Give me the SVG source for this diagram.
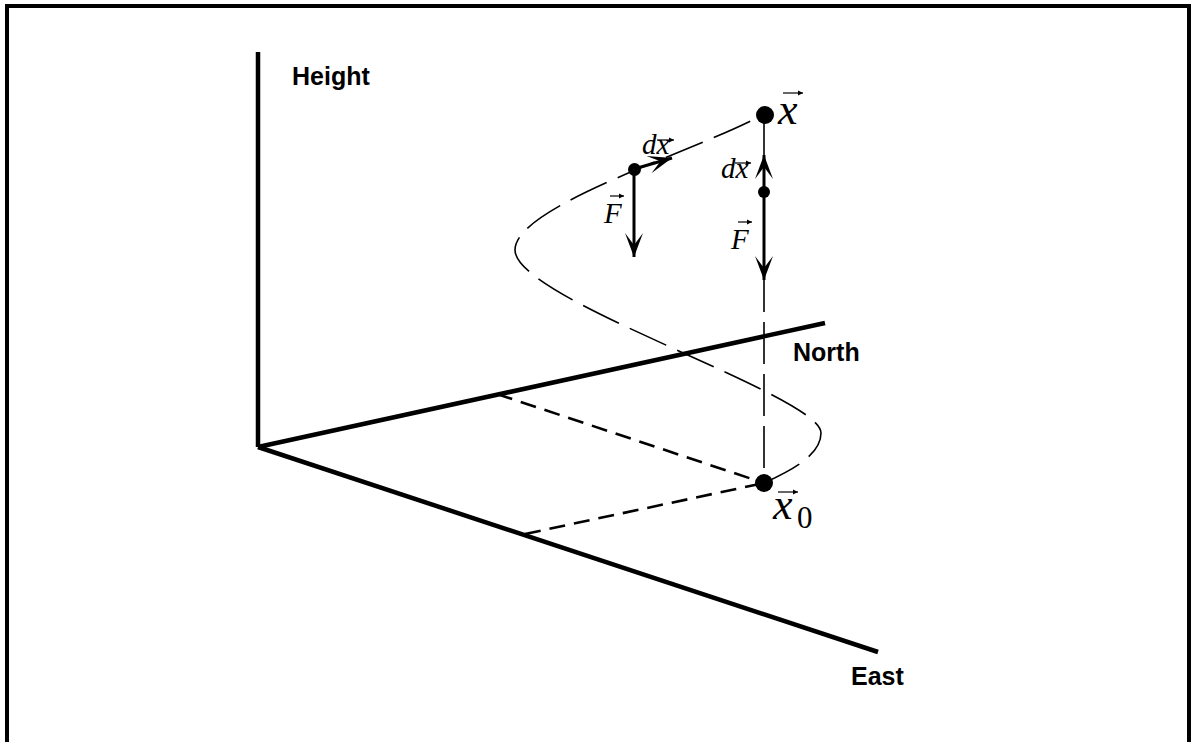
<svg xmlns="http://www.w3.org/2000/svg" width="1191" height="742" viewBox="0 0 1191 742">
<style>
.axis{stroke:#000;stroke-width:4.5;fill:none;stroke-linecap:butt}
.lbl{font-family:"Liberation Sans",Arial,sans-serif;font-weight:bold;font-size:25px;fill:#000}
.math{font-family:"Liberation Serif","Times New Roman",serif;font-style:italic;fill:#000}
.sub{font-family:"Liberation Serif","Times New Roman",serif;fill:#000}
.curve{stroke:#000;stroke-width:1.6;fill:none;stroke-dasharray:40 12}
.proj{stroke:#000;stroke-width:2.6;fill:none;stroke-dasharray:16 9}
.vdash{stroke:#000;stroke-width:1.6;fill:none;stroke-dasharray:42 10}
.vec{stroke:#000;stroke-width:3;fill:none}
.acc{stroke:#000;stroke-width:1.2;fill:none}
</style>
<defs>
<marker id="head" markerUnits="userSpaceOnUse" viewBox="-26 -10 28 20" refX="0" refY="0" markerWidth="28" markerHeight="20" orient="auto">
<path d="M0,0 L-24,-9 L-12,0 L-24,9 Z" fill="#000"/>
</marker>
<marker id="acch" markerUnits="userSpaceOnUse" viewBox="-6 -3 7 6" refX="0" refY="0" markerWidth="7" markerHeight="6" orient="auto">
<path d="M0,0 L-5,-2.5 L-5,2.5 Z" fill="#000"/>
</marker>
</defs>
<path id="frame" d="M7,746 V6 H1189 V746" fill="none" stroke="#000" stroke-width="4"/>
<g id="axes">
<line class="axis" x1="258" y1="447" x2="258" y2="52"/>
<line class="axis" x1="258" y1="447" x2="825" y2="323"/>
<line class="axis" x1="258" y1="447" x2="878" y2="652"/>
<text class="lbl" x="292" y="85">Height</text>
<text class="lbl" x="793" y="361">North</text>
<text class="lbl" x="851" y="685">East</text>
</g>
<g id="connectors">
<path class="curve" d="M764,483 C792,470 821,455 821,433 C821,395 515,300 515,250 C515,205 700,150 764,114"/>
<line class="proj" x1="497" y1="394" x2="764" y2="483"/>
<line class="proj" x1="525" y1="534" x2="764" y2="483"/>
<line class="vdash" x1="764" y1="270" x2="764" y2="483"/>
<line stroke="#000" stroke-width="1.6" x1="764" y1="114" x2="764" y2="165"/>
<line class="vec" x1="634" y1="169" x2="634" y2="257" marker-end="url(#head)"/>
<line class="vec" x1="634" y1="169" x2="672" y2="158" marker-end="url(#head)"/>
<line class="vec" x1="764" y1="192" x2="764" y2="155" marker-end="url(#head)"/>
<line class="vec" x1="764" y1="192" x2="764" y2="280" marker-end="url(#head)"/>
</g>
<g id="node-x">
<circle cx="765" cy="115" r="9"/>
<text class="math" x="778" y="124" font-size="44">x</text>
<line class="acc" x1="783" y1="93" x2="803" y2="93" marker-end="url(#acch)"/>
</g>
<g id="node-x0">
<circle cx="764" cy="483" r="9"/>
<text class="math" x="773" y="519" font-size="44">x</text>
<text class="sub" x="797" y="528" font-size="31">0</text>
<line class="acc" x1="778" y1="492" x2="798" y2="492" marker-end="url(#acch)"/>
</g>
<g id="node-p1">
<circle cx="634.5" cy="169.5" r="6.5"/>
<text class="math" x="642" y="154" font-size="29">dx</text>
<line class="acc" x1="657" y1="140" x2="674" y2="140" marker-end="url(#acch)"/>
<text class="math" x="604" y="223" font-size="29">F</text>
<line class="acc" x1="610" y1="196" x2="624" y2="196" marker-end="url(#acch)"/>
</g>
<g id="node-p2">
<circle cx="764" cy="192" r="6"/>
<text class="math" x="721" y="178" font-size="29">dx</text>
<line class="acc" x1="735" y1="163" x2="751" y2="163" marker-end="url(#acch)"/>
<text class="math" x="731" y="249" font-size="29">F</text>
<line class="acc" x1="738" y1="222" x2="752" y2="222" marker-end="url(#acch)"/>
</g>
</svg>
